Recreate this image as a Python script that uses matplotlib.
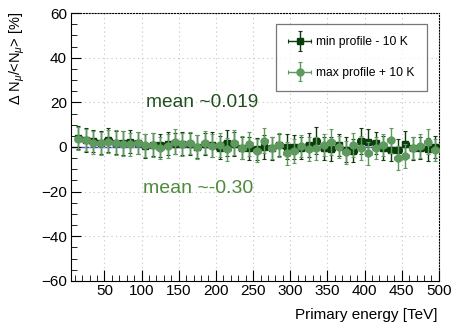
import numpy as np
import matplotlib.pyplot as plt
from matplotlib.ticker import MultipleLocator
from matplotlib.legend_handler import HandlerErrorbar
from matplotlib.container import ErrorbarContainer

plt.rcParams['font.family'] = ['Liberation Sans', 'DejaVu Sans']
plt.rcParams['mathtext.fontset'] = 'custom'
plt.rcParams['mathtext.rm'] = 'Liberation Sans'
plt.rcParams['mathtext.it'] = 'Liberation Sans:italic'

# bin centres [TeV]
energy = np.arange(15, 500, 10)

# min profile - 10 K (dark squares)
min_vals = [4.2, 3.1, 2.6, 2.0, 3.0, 2.0, 1.7, 2.4, 1.7, 0.4, 1.0, 0.7, 1.5, 1.5, 1.5,
            1.3, 0.1, 1.4, 1.0, -0.3, 1.9, 1.3, -0.3, -0.6, -0.8, 0.1, -0.6, 0.9, 0.2,
            0.0, -0.6, 0.9, 2.8, -0.6, -1.0, 0.9, -1.3, -1.6, 2.8, 2.4, 1.9, -0.6, -1.3,
            -1.3, 1.3, -0.6, -0.6, -1.0, -0.1]
min_err = [5.0, 5.2, 4.8, 5.1, 5.3, 5.0, 5.4, 5.0, 4.9, 5.5, 5.2, 5.0, 5.1, 4.8, 5.3,
           5.0, 5.2, 5.0, 5.5, 5.1, 5.8, 5.3, 4.9, 5.2, 5.0, 5.4, 5.1, 5.0, 5.6, 5.2,
           5.0, 5.5, 6.0, 5.1, 5.3, 5.0, 5.6, 5.2, 5.8, 5.5, 5.0, 5.3, 5.1, 5.0, 5.9,
           5.2, 5.0, 5.1, 5.0]

# max profile + 10 K (light circles)
max_vals = [3.8, 3.0, 2.0, 1.7, 2.4, 2.0, 1.5, 1.2, 1.7, 0.7, 1.0, -0.5, 0.4, 2.4, 1.2,
            1.7, 0.1, 1.9, 0.6, 1.0, -1.0, 1.9, -0.3, 1.3, -1.6, 2.8, -0.6, 0.9, -2.8,
            -1.6, 0.4, -1.0, -0.6, 0.9, 2.1, 0.0, -2.4, 0.9, -0.6, -2.8, -0.6, 0.9,
            3.1, -5.0, -4.0, -0.6, 0.4, 2.4, -1.3]
max_err = [5.2, 5.0, 5.3, 5.1, 5.0, 5.4, 5.6, 5.2, 5.0, 5.1, 5.3, 5.0, 5.2, 5.5, 5.1,
           5.0, 5.3, 5.2, 5.0, 5.4, 5.1, 5.6, 5.0, 5.2, 5.3, 5.5, 5.0, 5.2, 5.1, 5.4,
           5.0, 5.3, 5.2, 5.0, 5.8, 5.1, 5.0, 5.3, 5.4, 5.2, 5.0, 5.1, 5.6, 5.3, 5.2,
           5.0, 5.4, 5.5, 5.0]

dark = '#0b3d0b'
light = '#5e9a5e'

fig = plt.figure(figsize=(4.52, 3.27), dpi=100)
ax = fig.add_axes([0.157, 0.141, 0.814, 0.819])

ax.axhline(0, color='#4848c8', lw=1.0, zorder=1)

ax.errorbar(energy, min_vals, yerr=min_err, xerr=5, fmt='s', color=dark,
            ms=4.5, elinewidth=1.0, capsize=1.5, capthick=0.8,
            label='min profile - 10 K', zorder=3)
ax.errorbar(energy, max_vals, yerr=max_err, xerr=5, fmt='o', color=light,
            ms=5, elinewidth=1.0, capsize=1.5, capthick=0.8,
            label='max profile + 10 K', zorder=4)

ax.set_xlim(5, 500)
ax.set_ylim(-60, 60)
ax.xaxis.set_major_locator(MultipleLocator(50))
ax.xaxis.set_minor_locator(MultipleLocator(10))
ax.yaxis.set_minor_locator(MultipleLocator(5))
ax.set_yticks([-60, -40, -20, 0, 20, 40, 60])
ax.set_yticklabels(['\u221260', '\u221240', '\u221220', '0', '20', '40', '60'])
ax.tick_params(which='both', direction='in', labelsize=11, top=False, right=False)
ax.tick_params(axis='x', which='major', length=8, pad=2)
ax.tick_params(axis='y', which='major', length=7, pad=3)
ax.tick_params(which='minor', length=4)
ax.grid(True, which='major', ls=(0, (1, 3)), color='#c4c4c4', lw=0.8)

ax.spines['top'].set_linestyle(':')
ax.spines['right'].set_linestyle(':')

ax.text(106, 20, 'mean ~0.019', color='#1f4f1f', fontsize=13.8, va='center')
ax.text(102, -18.4, 'mean ~-0.30', color='#4f8a3f', fontsize=14, va='center')

fig.text(438 / 452, 1 - 315 / 327, 'Primary energy [TeV]', fontsize=11,
         ha='right', va='center')
fig.text(17 / 452, 1 - 12 / 327, r'$\Delta$ N$_{\mu}$/<N$_{\mu}$> [%]', fontsize=10.5,
         rotation=90, ha='center', va='top')

leg = ax.legend(loc='upper right', bbox_to_anchor=(0.967, 0.959), borderaxespad=0,
                fontsize=8.7, frameon=True, fancybox=False, edgecolor='#555555',
                handlelength=1.9, handletextpad=0.4, borderpad=1.0, labelspacing=1.55,
                handler_map={ErrorbarContainer: HandlerErrorbar(xerr_size=0.95,
                                                                yerr_size=0.8)})
leg.get_frame().set_linewidth(0.9)

fig.savefig('out.png', dpi=100)
